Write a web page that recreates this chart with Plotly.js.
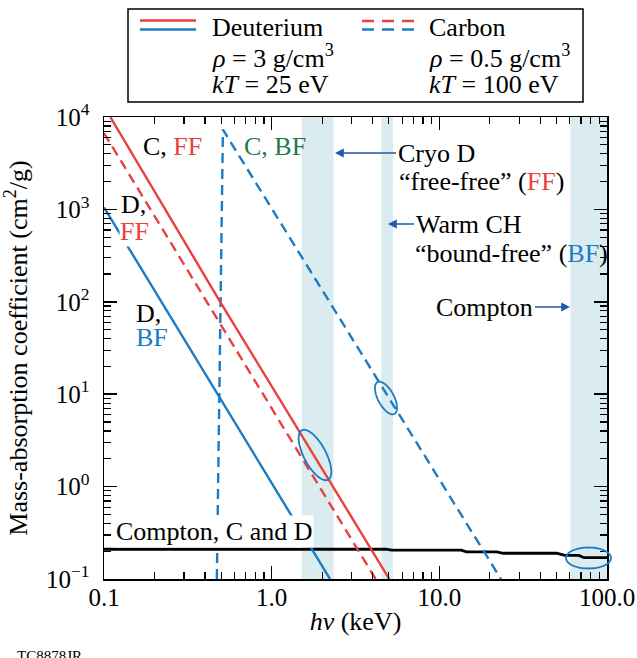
<!DOCTYPE html>
<html><head><meta charset="utf-8">
<script src="https://cdn.plot.ly/plotly-3.0.1.min.js"></script>
<style>body{margin:0;background:#fff}</style>
</head><body><div id="chart" style="width:637px;height:658px"></div>
<script>
// ---- data ----
const dFF_x = [0.109, 0.493, 5.03];          // Deuterium free-free
const dFF_y = [10000, 100, 0.1];
const cFF_x = [0.1, 0.48, 4.17];             // Carbon free-free
const cFF_y = [6700, 63, 0.1];
const dBF_x = [0.1, 0.237, 0.481, 2.23];     // Deuterium bound-free
const dBF_y = [1050, 80, 9.8, 0.1];
const cBF_x = [0.471, 0.512, 23.3];          // Carbon bound-free (K edge)
const cBF_y = [0.1, 7300, 0.1];
const compton_x = [0.1, 4.8, 5.2, 13.5, 14.5, 22, 24, 50, 56, 68, 73, 100];
const compton_y = [0.21, 0.21, 0.205, 0.205, 0.197, 0.197, 0.19, 0.19, 0.18, 0.18, 0.17, 0.17];
const band_x0 = [1.51, 4.51, 60.5];
const band_x1 = [2.34, 5.29, 100];
const xTickVals = [0.1, 1, 10, 100];
const xTickText = ['0.1', '1.0', '10.0', '100.0'];
const yTickVals = [0.1, 1, 10, 100, 1000, 10000];
const yTickText = ['10<sup>−1</sup>', '10<sup>0</sup>', '10<sup>1</sup>', '10<sup>2</sup>', '10<sup>3</sup>', '10<sup>4</sup>'];

// ---- style ----
const RED = '#e8413e', BLUE = '#1b7bc4', GREEN = '#1d7a50', BAND = '#daecef', ARROW = '#1e5aa8';
const FONT = '"Liberation Serif", "Times New Roman", Times, serif';
const YMIN = 0.1, YMAX = 10000;

function minorVals(decades) {
  const out = [];
  decades.forEach(d => { for (let k = 2; k <= 9; k++) out.push(k * d); });
  return out;
}

// plot area in pixels (for placing decorations / labels)
const PL = 104, PR = 607, PT = 117, PB = 579;
const fx = px => (px - PL) / (PR - PL);
const fy = py => (PB - py) / (PB - PT);

const traces = [];
band_x0.forEach((x0, i) => {
  traces.push({x: [x0, x0, band_x1[i], band_x1[i], x0], y: [YMIN, YMAX, YMAX, YMIN, YMIN],
    mode: 'lines', fill: 'toself', fillcolor: BAND, line: {width: 0}, hoverinfo: 'skip', showlegend: false});
});
traces.push({x: compton_x, y: compton_y, mode: 'lines', line: {color: '#000', width: 2.8}, showlegend: false});
traces.push({x: dBF_x, y: dBF_y, mode: 'lines', line: {color: BLUE, width: 2.4}, showlegend: false});
traces.push({x: cBF_x, y: cBF_y, mode: 'lines', line: {color: BLUE, width: 2.4, dash: '10px,6px'}, showlegend: false});
traces.push({x: cFF_x, y: cFF_y, mode: 'lines', line: {color: RED, width: 2.4, dash: '10px,6px'}, showlegend: false});
traces.push({x: dFF_x, y: dFF_y, mode: 'lines', line: {color: RED, width: 2.4}, showlegend: false});

function ellipsePath(cx, cy, a, b, deg) {
  const th = deg * Math.PI / 180, pts = [];
  for (let i = 0; i <= 60; i++) {
    const t = 2 * Math.PI * i / 60, ex = a * Math.cos(t), ey = b * Math.sin(t);
    const x = cx + ex * Math.cos(th) - ey * Math.sin(th);
    const y = cy + ex * Math.sin(th) + ey * Math.cos(th);
    pts.push(fx(x).toFixed(5) + ',' + fy(y).toFixed(5));
  }
  return 'M' + pts.join(' L') + ' Z';
}

const shapes = [
  // legend box and keys
  {type: 'rect', xref: 'paper', yref: 'paper', x0: fx(128), x1: fx(583), y0: fy(9), y1: fy(102), line: {color: '#000', width: 1.5}},
  {type: 'line', xref: 'paper', yref: 'paper', x0: fx(140), x1: fx(196), y0: fy(20.5), y1: fy(20.5), line: {color: RED, width: 2.5}},
  {type: 'line', xref: 'paper', yref: 'paper', x0: fx(140), x1: fx(196), y0: fy(29.5), y1: fy(29.5), line: {color: BLUE, width: 2.5}},
  {type: 'line', xref: 'paper', yref: 'paper', x0: fx(362), x1: fx(418), y0: fy(21), y1: fy(21), line: {color: RED, width: 2.5, dash: '12px,8px'}},
  {type: 'line', xref: 'paper', yref: 'paper', x0: fx(362), x1: fx(418), y0: fy(29.5), y1: fy(29.5), line: {color: BLUE, width: 2.5, dash: '12px,8px'}},
  // highlight ellipses
  {type: 'path', xref: 'paper', yref: 'paper', path: ellipsePath(315, 455, 28, 11, 62), line: {color: BLUE, width: 1.8}},
  {type: 'path', xref: 'paper', yref: 'paper', path: ellipsePath(386, 398, 18, 8, 62), line: {color: BLUE, width: 1.8}},
  {type: 'path', xref: 'paper', yref: 'paper', path: ellipsePath(588.5, 558, 22.5, 10.5, 0), line: {color: BLUE, width: 1.8}}
];

function lab(px, py, text, extra) {
  return Object.assign({xref: 'paper', yref: 'paper', x: fx(px), y: fy(py), xanchor: 'left', yanchor: 'middle',
    text: text, showarrow: false, font: {family: FONT, size: 26, color: '#000'}}, extra || {});
}
// label whose arrow runs from the text edge (tx, ty) to the head (hx, hy)
function arrowLab(hx, hy, tx, ty, text, anchor) {
  return {xref: 'paper', yref: 'paper', x: fx(hx), y: fy(hy), ax: tx - hx, ay: ty - hy, text: text,
    xanchor: anchor, yanchor: 'middle', font: {family: FONT, size: 26, color: '#000'},
    showarrow: true, arrowhead: 2, arrowsize: 1.1, arrowwidth: 1.6, arrowcolor: ARROW, standoff: 0, startstandoff: 0};
}
const sp = c => t => '<span style="color:' + c + '">' + t + '</span>';
const red = sp(RED), blue = sp(BLUE), green = sp(GREEN);

const annotations = [
  // legend text
  lab(210, 27, 'Deuterium'),
  lab(210, 56, '<i>ρ</i> = 3 g/cm<sup>3</sup>'),
  lab(210, 85, '<i>kT</i> = 25 eV'),
  lab(427, 27, 'Carbon'),
  lab(427, 56, '<i>ρ</i> = 0.5 g/cm<sup>3</sup>'),
  lab(427, 85, '<i>kT</i> = 100 eV'),
  // curve labels
  lab(141, 146, 'C, ' + red('FF')),
  lab(242, 146, green('C, BF')),
  lab(119, 204, 'D,'),
  lab(119, 232, red('FF'), {bgcolor: '#fff', borderpad: 0}),
  lab(134, 313, 'D,'),
  lab(134, 337, blue('BF')),
  arrowLab(335, 153, 396, 153, 'Cryo D', 'left'),
  lab(397, 181, '“free-free” (' + red('FF') + ')'),
  arrowLab(388, 224, 414, 224, 'Warm CH', 'left'),
  lab(413, 253, '“bound-free” (' + blue('BF') + ')'),
  arrowLab(570, 307, 535, 307, 'Compton', 'right'),
  lab(114, 531, 'Compton, C and D', {bgcolor: '#fff', borderpad: 1}),
  {xref: 'paper', yref: 'paper', x: fx(15), y: fy(646), xanchor: 'left', yanchor: 'top', text: 'TC8878JR',
    showarrow: false, font: {family: FONT, size: 15, color: '#000'}}
];

const axisCommon = {
  type: 'log', showgrid: false, zeroline: false, showline: true, linecolor: '#000', linewidth: 1.5,
  mirror: 'ticks', ticks: 'inside', ticklen: 13, tickwidth: 1.5, tickcolor: '#000',
  tickmode: 'array', tickfont: {family: FONT, size: 25, color: '#000'}
};

const layout = {
  width: 637, height: 658,
  margin: {l: PL, r: 637 - PR, t: PT, b: 658 - PB},
  paper_bgcolor: '#fff', plot_bgcolor: '#fff',
  showlegend: false,
  font: {family: FONT, color: '#000'},
  xaxis: Object.assign({}, axisCommon, {
    range: [-1, 2], tickvals: xTickVals, ticktext: xTickText, ticklabelstandoff: -5,
    minor: {tickmode: 'array', tickvals: minorVals([0.1, 1, 10]), ticks: 'inside', ticklen: 7, tickwidth: 1.2, tickcolor: '#000'},
    title: {text: '<i>hν</i> (keV)', font: {family: FONT, size: 26, color: '#000'}, standoff: 2}
  }),
  yaxis: Object.assign({}, axisCommon, {
    range: [-1, 4], tickvals: yTickVals, ticktext: yTickText, ticklabelstandoff: 8,
    minor: {tickmode: 'array', tickvals: minorVals([0.1, 1, 10, 100, 1000]), ticks: 'inside', ticklen: 7, tickwidth: 1.2, tickcolor: '#000'},
    title: {text: 'Mass-absorption coefficient (cm<sup>2</sup>/g)', font: {family: FONT, size: 26, color: '#000'}, standoff: 14}
  }),
  shapes: shapes,
  annotations: annotations
};

Plotly.newPlot('chart', traces, layout, {displayModeBar: false, staticPlot: true});
</script>
</body></html>
